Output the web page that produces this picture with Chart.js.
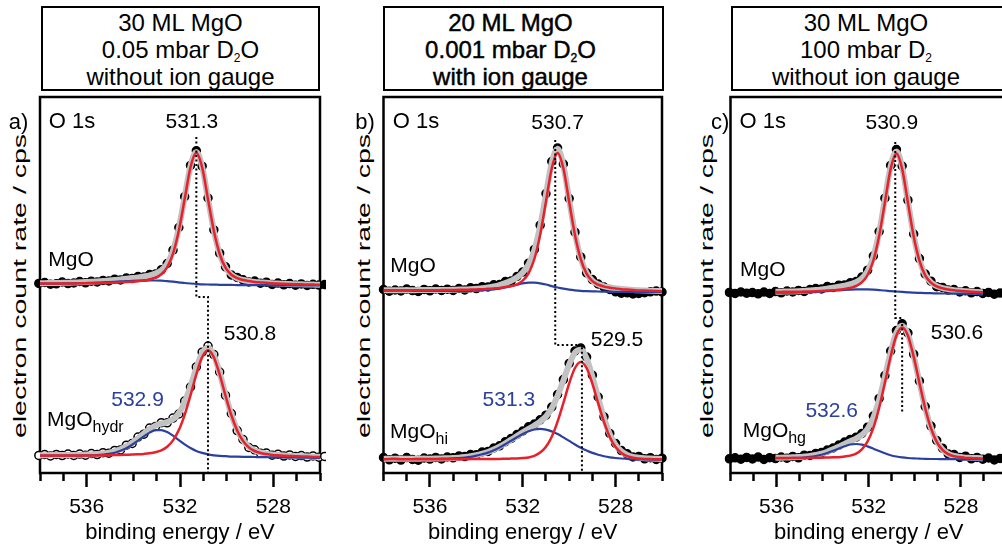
<!DOCTYPE html>
<html>
<head>
<meta charset="utf-8">
<script src="https://cdn.jsdelivr.net/npm/chart.js@4.4.0/dist/chart.umd.min.js"></script>
<style>
  html, body { margin: 0; padding: 0; width: 1002px; height: 548px; overflow: hidden; background: #fff; }
  body { position: relative; font-family: "Liberation Sans", Arial, Helvetica, sans-serif; color: #000; }
  .head { position: absolute; top: 6px; height: 85px; box-sizing: border-box; border: 2.5px solid #000;
          text-align: center; font-size: 24px; line-height: 27px; padding-top: 1px; white-space: nowrap; }
  .head sub { font-size: 12px; vertical-align: -4px; line-height: 0; }
  .ylab { position: absolute; top: 286px; font-size: 19px; white-space: nowrap;
          transform: translate(-50%, -50%) rotate(-90deg) scaleX(1.5); }
  canvas { position: absolute; top: 90px; }
</style>
</head>
<body>
<div class="head" style="left:41px; width:279px;">30 ML MgO<br>0.05 mbar D<sub>2</sub>O<br>without ion gauge</div>
<div class="head" style="left:383px; width:281px; padding-right:26px; -webkit-text-stroke:0.45px #000;">20 ML MgO<br>0.001 mbar D<sub>2</sub>O<br>with ion gauge</div>
<div class="head" style="left:731px; width:280px; padding-right:10px;">30 ML MgO<br>100 mbar D<sub>2</sub><br>without ion gauge</div>

<div class="ylab" style="left:20px;">electron count rate / cps</div>
<div class="ylab" style="left:364px;">electron count rate / cps</div>
<div class="ylab" style="left:707px;">electron count rate / cps</div>

<canvas id="pa" width="330" height="458" style="left:0px"></canvas>
<canvas id="pb" width="340" height="458" style="left:330px"></canvas>
<canvas id="pc" width="345" height="458" style="left:670px"></canvas>

<script>
// binding energy grids (eV)
const energyA = [538.05, 537.80, 537.55, 537.30, 537.05, 536.80, 536.55, 536.30, 536.05, 535.80,
  535.55, 535.30, 535.05, 534.80, 534.55, 534.30, 534.05, 533.80, 533.55, 533.30,
  533.05, 532.80, 532.55, 532.30, 532.05, 531.80, 531.55, 531.30, 531.05, 530.80,
  530.55, 530.30, 530.05, 529.80, 529.55, 529.30, 529.05, 528.80, 528.55, 528.30,
  528.05, 527.80, 527.55, 527.30, 527.05, 526.80, 526.55, 526.30, 526.05, 525.80];
const energyB = [538.00, 537.75, 537.50, 537.25, 537.00, 536.75, 536.50, 536.25, 536.00, 535.75,
  535.50, 535.25, 535.00, 534.75, 534.50, 534.25, 534.00, 533.75, 533.50, 533.25,
  533.00, 532.75, 532.50, 532.25, 532.00, 531.75, 531.50, 531.25, 531.00, 530.75,
  530.50, 530.25, 530.00, 529.75, 529.50, 529.25, 529.00, 528.75, 528.50, 528.25,
  528.00, 527.75, 527.50, 527.25, 527.00, 526.75, 526.50, 526.25, 526.00];
const energyC = energyA.slice();
const energyCFit = [536.05, 535.80, 535.55, 535.30, 535.05, 534.80, 534.55, 534.30, 534.05, 533.80,
  533.55, 533.30, 533.05, 532.80, 532.55, 532.30, 532.05, 531.80, 531.55, 531.30,
  531.05, 530.80, 530.55, 530.30, 530.05, 529.80, 529.55, 529.30, 529.05, 528.80,
  528.55, 528.30, 528.05, 527.80, 527.55, 527.30, 527.05];

// a) 30 ML MgO, 0.05 mbar D2O
const aTopData = [189.6, 190.5, 188.8, 189.2, 191.0, 189.4, 190.0, 191.5, 190.2, 191.8,
  191.0, 192.6, 192.0, 193.8, 193.0, 195.0, 194.6, 196.5, 196.0, 198.4,
  199.0, 203.2, 209.5, 222.8, 245.5, 276.3, 307.6, 322.2, 306.8, 275.0,
  243.2, 219.8, 206.2, 198.0, 195.6, 193.2, 191.0, 191.9, 189.8, 190.8,
  188.6, 189.9, 188.2, 189.4, 187.8, 189.1, 187.6, 188.7, 187.9, 188.4];
const aTopEnv = [189.8, 189.8, 190.0, 190.0, 190.2, 190.3, 190.4, 190.7, 191.0, 191.2,
  191.6, 192.0, 192.4, 192.9, 193.6, 194.2, 194.9, 195.6, 196.5, 197.6,
  199.4, 202.6, 209.1, 222.3, 244.8, 275.7, 307.0, 321.1, 306.2, 274.2,
  242.5, 219.2, 205.4, 198.4, 194.8, 193.0, 192.0, 191.1, 190.6, 190.2,
  189.7, 189.4, 189.2, 188.9, 188.8, 188.7, 188.5, 188.4, 188.3, 188.2];
const aTopRed = [189.5, 189.5, 189.6, 189.5, 189.6, 189.6, 189.6, 189.7, 189.8, 189.8,
  189.9, 190.0, 190.1, 190.3, 190.6, 190.9, 191.3, 191.8, 192.5, 193.5,
  195.3, 198.7, 205.6, 219.3, 242.4, 273.9, 305.7, 320.2, 305.6, 273.8,
  242.2, 219.0, 205.3, 198.3, 194.8, 193.0, 192.0, 191.1, 190.6, 190.2,
  189.7, 189.4, 189.2, 188.9, 188.8, 188.7, 188.5, 188.4, 188.3, 188.2];
const aTopBlue = [189.3, 189.3, 189.4, 189.4, 189.5, 189.6, 189.6, 189.8, 190.0, 190.1,
  190.4, 190.7, 190.9, 191.2, 191.6, 191.8, 192.1, 192.3, 192.4, 192.5,
  192.5, 192.3, 191.8, 191.3, 190.7, 190.0, 189.5, 189.1, 188.7, 188.5,
  188.4, 188.2, 188.1, 188.1, 187.9, 187.9, 187.9, 187.8, 187.8, 187.8,
  187.7, 187.7, 187.7, 187.6, 187.6, 187.6, 187.5, 187.5, 187.5, 187.5];
const aBotData = [17.6, 18.5, 17.0, 18.6, 17.4, 19.0, 17.6, 18.9, 17.8, 19.5,
  18.4, 20.3, 19.8, 22.6, 23.1, 27.8, 29.6, 35.9, 38.8, 45.0,
  46.6, 50.3, 50.2, 54.9, 59.0, 72.0, 86.0, 106.1, 120.8, 126.9,
  118.4, 101.0, 77.6, 59.5, 42.4, 33.5, 25.5, 23.2, 19.8, 20.0,
  17.8, 18.8, 16.9, 18.1, 16.5, 17.4, 15.9, 17.1, 15.8, 16.6];
const aBotEnv = [17.8, 17.8, 17.9, 17.9, 18.0, 18.0, 18.1, 18.2, 18.4, 18.6,
  18.9, 19.5, 20.4, 21.7, 23.8, 26.6, 30.3, 34.7, 39.5, 43.9,
  47.4, 49.4, 51.0, 53.8, 59.8, 70.9, 86.7, 104.9, 120.1, 125.6,
  117.7, 99.9, 78.5, 58.6, 43.2, 32.7, 26.2, 22.5, 20.5, 19.3,
  18.5, 18.0, 17.6, 17.3, 17.1, 16.7, 16.6, 16.3, 16.2, 16.1];
const aBotRed = [17.5, 17.5, 17.5, 17.5, 17.5, 17.4, 17.5, 17.5, 17.5, 17.6,
  17.6, 17.7, 17.8, 17.9, 18.0, 18.2, 18.4, 18.7, 19.1, 19.7,
  20.8, 22.6, 26.2, 32.6, 42.9, 58.2, 77.6, 98.7, 115.9, 122.8,
  115.8, 98.5, 77.4, 57.8, 42.5, 32.1, 25.6, 22.0, 20.0, 18.9,
  18.1, 17.7, 17.3, 17.0, 16.8, 16.5, 16.4, 16.1, 16.0, 15.9];
const aBotBlue = [17.4, 17.4, 17.4, 17.3, 17.4, 17.4, 17.4, 17.4, 17.5, 17.7,
  17.9, 18.4, 19.1, 20.3, 22.2, 24.8, 28.3, 32.3, 36.7, 40.4,
  42.8, 42.9, 40.9, 37.3, 32.9, 28.7, 25.0, 22.1, 20.1, 18.6,
  17.7, 17.1, 16.8, 16.4, 16.3, 16.2, 16.1, 16.0, 15.9, 15.8,
  15.7, 15.6, 15.6, 15.5, 15.5, 15.3, 15.3, 15.2, 15.2, 15.1];

// b) 20 ML MgO, 0.001 mbar D2O
const bTopData = [183.5, 181.8, 183.0, 182.1, 183.9, 182.4, 181.6, 183.6, 182.2, 184.0,
  182.5, 183.8, 182.6, 184.5, 183.0, 185.2, 184.4, 186.3, 186.0, 188.2,
  188.4, 191.4, 192.0, 196.5, 200.9, 209.8, 223.6, 247.8, 279.4, 311.5,
  325.0, 309.0, 274.5, 240.8, 216.0, 200.2, 193.4, 189.0, 186.0, 183.5,
  181.2, 179.8, 180.2, 179.0, 179.6, 180.3, 181.2, 181.9, 181.0];
const bTopEnv = [182.8, 182.8, 182.8, 182.8, 182.9, 182.8, 182.9, 182.9, 182.9, 183.0,
  183.1, 183.1, 183.2, 183.4, 183.5, 183.8, 184.2, 184.7, 185.5, 186.5,
  187.9, 189.9, 192.3, 195.5, 200.4, 208.6, 222.9, 246.6, 278.5, 310.3,
  324.2, 307.7, 273.3, 239.5, 214.7, 200.0, 192.4, 188.7, 186.7, 185.5,
  184.7, 184.0, 183.6, 183.1, 182.7, 182.5, 182.3, 182.1, 181.9];
const bTopRed = [182.7, 182.7, 182.7, 182.7, 182.8, 182.7, 182.7, 182.8, 182.8, 182.8,
  182.9, 182.9, 183.0, 183.2, 183.2, 183.4, 183.6, 183.8, 184.2, 184.6,
  185.1, 185.9, 187.0, 188.7, 192.3, 199.7, 214.0, 238.3, 271.4, 304.7,
  320.0, 304.7, 271.2, 238.1, 213.8, 199.3, 191.9, 188.3, 186.4, 185.3,
  184.5, 183.8, 183.4, 183.0, 182.6, 182.4, 182.2, 182.0, 181.8];
const bTopBlue = [182.4, 182.4, 182.3, 182.3, 182.3, 182.2, 182.2, 182.2, 182.1, 182.2,
  182.2, 182.1, 182.1, 182.2, 182.1, 182.2, 182.4, 182.6, 183.0, 183.6,
  184.4, 185.6, 186.9, 188.3, 189.6, 190.4, 190.3, 189.7, 188.5, 186.9,
  185.5, 184.3, 183.3, 182.6, 182.1, 181.8, 181.6, 181.5, 181.3, 181.2,
  181.2, 181.1, 181.1, 181.0, 180.9, 180.9, 180.9, 180.8, 180.8];
const bBotData = [15.5, 13.2, 14.8, 12.9, 15.4, 13.6, 12.8, 15.0, 13.9, 15.6,
  14.1, 16.0, 15.2, 16.9, 16.4, 18.5, 18.3, 21.0, 21.6, 25.0,
  27.2, 31.3, 34.6, 38.5, 42.0, 46.2, 49.0, 53.2, 57.8, 66.0,
  78.5, 93.4, 109.6, 122.0, 125.0, 116.0, 97.8, 76.0, 56.2, 39.6,
  29.5, 22.4, 19.2, 16.0, 16.6, 14.2, 15.3, 13.5, 14.8];
const bBotEnv = [14.1, 14.2, 14.2, 14.2, 14.2, 14.2, 14.3, 14.4, 14.3, 14.4,
  14.6, 14.8, 15.0, 15.3, 15.9, 16.7, 17.8, 19.3, 21.0, 23.5,
  26.4, 29.7, 33.4, 36.9, 40.7, 44.1, 47.5, 51.4, 56.5, 64.8,
  77.1, 92.5, 108.5, 120.5, 123.3, 114.5, 96.5, 75.2, 55.0, 38.9,
  28.1, 21.7, 18.1, 16.1, 15.3, 14.8, 14.5, 14.3, 14.1];
const bBotRed = [13.8, 13.9, 13.9, 13.8, 13.8, 13.8, 13.8, 13.8, 13.8, 13.8,
  13.8, 13.8, 13.9, 13.8, 13.8, 13.9, 13.9, 14.0, 13.9, 14.0,
  14.1, 14.3, 14.4, 14.5, 14.9, 15.6, 17.2, 20.4, 26.2, 36.3,
  51.3, 70.0, 89.5, 105.0, 111.0, 105.0, 89.4, 69.9, 51.1, 36.1,
  26.0, 20.1, 16.9, 15.2, 14.5, 14.1, 13.9, 13.8, 13.6];
const bBotBlue = [14.0, 14.0, 14.1, 14.0, 14.0, 14.0, 14.1, 14.1, 14.1, 14.2,
  14.3, 14.4, 14.7, 15.0, 15.5, 16.2, 17.3, 18.7, 20.4, 22.8,
  25.6, 28.8, 32.3, 35.7, 39.0, 41.7, 43.5, 44.2, 43.4, 41.6,
  38.9, 35.6, 32.1, 28.5, 25.3, 22.5, 20.1, 18.3, 16.8, 15.7,
  15.0, 14.5, 14.1, 13.7, 13.6, 13.5, 13.4, 13.3, 13.3];

// c) 30 ML MgO, 100 mbar D2
const cTopData = [180.6, 179.5, 181.0, 179.8, 180.4, 179.2, 180.9, 179.6, 181.4, 180.2,
  182.0, 181.0, 182.6, 181.5, 183.5, 184.4, 184.0, 186.5, 185.6, 187.8,
  188.0, 190.2, 191.5, 196.0, 202.8, 217.0, 241.5, 274.8, 307.6, 323.5,
  307.0, 272.8, 239.0, 214.4, 199.0, 191.8, 186.3, 185.6, 182.9, 183.5,
  181.0, 182.2, 180.2, 181.4, 179.6, 180.6, 178.8, 179.9, 178.5, 179.2];
const cTopEnv = [181.2, 181.3, 181.5, 181.6, 181.8, 182.1, 182.4, 182.9, 183.6, 184.4,
  185.2, 186.2, 187.4, 188.8, 190.9, 194.6, 201.9, 216.2, 240.3, 273.4,
  306.5, 321.5, 305.7, 271.6, 237.7, 213.0, 198.2, 190.7, 186.9, 184.9,
  183.8, 182.8, 182.3, 181.8, 181.4, 181.0, 180.8];
const cTopRed = [181.0, 181.1, 181.2, 181.2, 181.3, 181.4, 181.5, 181.7, 182.0, 182.4,
  182.8, 183.3, 184.1, 185.1, 187.0, 190.6, 198.0, 212.5, 237.0, 270.5,
  304.1, 319.5, 304.1, 270.4, 236.8, 212.3, 197.7, 190.3, 186.6, 184.7,
  183.6, 182.7, 182.2, 181.7, 181.3, 180.9, 180.7];
const cTopBlue = [180.3, 180.3, 180.4, 180.4, 180.5, 180.7, 180.8, 181.1, 181.5, 181.9,
  182.2, 182.7, 183.1, 183.4, 183.6, 183.7, 183.6, 183.3, 182.9, 182.5,
  181.9, 181.5, 181.1, 180.7, 180.3, 180.1, 179.9, 179.8, 179.6, 179.5,
  179.5, 179.3, 179.3, 179.3, 179.3, 179.2, 179.2];
const cBotData = [14.2, 15.2, 13.8, 15.6, 14.0, 15.9, 13.6, 15.3, 14.4, 16.0,
  14.8, 16.6, 15.2, 17.8, 17.5, 19.6, 20.4, 23.0, 25.0, 27.9,
  31.0, 33.6, 35.8, 39.5, 45.8, 57.0, 74.6, 97.5, 122.0, 142.4,
  149.2, 140.0, 118.8, 92.0, 66.4, 46.9, 32.5, 24.8, 19.0, 18.4,
  15.6, 16.8, 14.2, 15.6, 13.8, 15.0, 13.1, 14.6, 13.4, 14.0];
const cBotEnv = [15.4, 15.3, 15.5, 15.7, 15.9, 16.4, 17.0, 18.0, 19.3, 21.3,
  23.7, 26.2, 29.1, 31.8, 34.4, 38.1, 44.2, 55.5, 73.1, 96.1,
  120.5, 140.2, 147.3, 138.7, 117.3, 90.8, 65.3, 45.2, 31.6, 23.5,
  19.2, 17.1, 16.1, 15.3, 15.1, 14.9, 14.6];
const cBotRed = [15.0, 14.9, 15.0, 15.1, 15.0, 15.1, 15.2, 15.3, 15.3, 15.5,
  15.7, 15.8, 16.5, 17.4, 19.4, 23.7, 31.6, 45.1, 65.1, 90.3,
  116.5, 137.5, 145.5, 137.4, 116.4, 90.1, 64.8, 44.8, 31.2, 23.2,
  18.9, 16.8, 15.9, 15.1, 14.9, 14.7, 14.4];
const cBotBlue = [14.9, 14.8, 14.9, 15.1, 15.2, 15.6, 16.1, 17.0, 18.2, 20.0,
  22.2, 24.5, 26.7, 28.5, 29.0, 28.4, 26.6, 24.3, 21.9, 19.7,
  17.8, 16.5, 15.6, 15.0, 14.6, 14.4, 14.1, 14.0, 14.0, 13.8,
  13.8, 13.8, 13.7, 13.6, 13.6, 13.6, 13.5];

// dotted peak-position guides (energy, count rate)
const guideAE = [531.3, 531.3, 530.8, 530.8];
const guideAV = [336, 176, 176, 0];
const guideBE = [530.6, 530.6, 529.45, 529.45];
const guideBV = [333, 128, 128, 0];
const guideCE = [530.85, 530.85, 530.55, 530.55];
const guideCV = [331, 155, 155, 61];

const xTicks = [536, 532, 528];

const FONT = '"Liberation Sans", Arial, Helvetica, sans-serif';
const RED = '#e8202a', BLUE = '#2b409e', GRAY = '#c2c2c2';
Chart.defaults.font.family = FONT;
Chart.defaults.color = '#000';

function pts(es, vs) { return vs.map((v, i) => ({ x: es[i], y: v })); }

function points(es, vs, hollow) {
  return { data: pts(es, vs), showLine: false, order: 4, clip: 6,
    pointRadius: 4, pointBorderWidth: 1.5, pointBorderColor: '#000',
    pointBackgroundColor: hollow ? '#fff' : '#000' };
}
function curve(es, vs, color, width, order) {
  return { data: pts(es, vs), showLine: true, order: order, pointRadius: 0,
    borderColor: color, borderWidth: width, cubicInterpolationMode: 'monotone', fill: false };
}
function guide(es, vs) {
  return { data: pts(es, vs), showLine: true, order: 0, pointRadius: 0,
    borderColor: '#000', borderWidth: 2, borderDash: [2, 2.5], tension: 0 };
}

const framePlugin = {
  id: 'frame',
  beforeDatasetsDraw(chart) {
    const { ctx, chartArea: a } = chart;
    ctx.save();
    ctx.strokeStyle = '#000';
    ctx.lineWidth = 2.5;
    ctx.strokeRect(a.left, a.top, a.right - a.left, a.bottom - a.top);
    ctx.restore();
  }
};

const notesPlugin = {
  id: 'notes',
  afterDatasetsDraw(chart, args, opts) {
    const { ctx, scales: { x, y } } = chart;
    ctx.save();
    ctx.textBaseline = 'middle';
    for (const n of opts.items || []) {
      const px = x.getPixelForValue(n.e), py = y.getPixelForValue(n.v);
      ctx.font = (n.size || 21) + 'px ' + FONT;
      ctx.fillStyle = n.color || '#000';
      ctx.textAlign = n.align || 'center';
      ctx.fillText(n.t, px, py);
      if (n.sub) {
        const w = ctx.measureText(n.t).width;
        ctx.font = '16px ' + FONT;
        ctx.textAlign = 'left';
        ctx.fillText(n.sub, px + w, py + 8);
      }
    }
    ctx.restore();
  }
};

function panel(id, padL, padR, datasets, notes) {
  return new Chart(document.getElementById(id), {
    type: 'scatter',
    data: { datasets: datasets },
    options: {
      responsive: false,
      animation: false,
      events: [],
      layout: { padding: { left: padL, right: padR, top: 7, bottom: 0 } },
      plugins: { legend: { display: false }, tooltip: { enabled: false }, notes: { items: notes } },
      scales: {
        x: {
          type: 'linear', reverse: true, min: 526, max: 538,
          afterFit: (s) => { s.height = 75; },
          border: { display: false },
          grid: {
            drawOnChartArea: false, tickLength: 14, tickWidth: 2.5, tickColor: '#000',
            tickBorderDash: (c) => (c.tick && xTicks.includes(c.tick.value)) ? [] : [8, 40]
          },
          ticks: {
            stepSize: 1, autoSkip: false, maxRotation: 0, padding: 8, color: '#000',
            font: { size: 21 },
            callback: (v) => xTicks.includes(v) ? String(v) : ''
          },
          title: { display: true, text: 'binding energy / eV', color: '#000',
                   font: { size: 22 }, padding: { top: 0, bottom: 2 } }
        },
        y: { display: false, min: 0, max: 376 }
      }
    },
    plugins: [framePlugin, notesPlugin]
  });
}

panel('pa', 40, 10, [
  points(energyA, aTopData, false), points(energyA, aBotData, true),
  curve(energyA, aTopEnv, GRAY, 6, 3), curve(energyA, aBotEnv, GRAY, 6, 3),
  curve(energyA, aTopBlue, BLUE, 2.2, 2), curve(energyA, aBotBlue, BLUE, 2.2, 2),
  curve(energyA, aTopRed, RED, 2.5, 1), curve(energyA, aBotRed, RED, 2.5, 1),
  guide(guideAE, guideAV)
], [
  { t: 'a)', e: 538.92, v: 350, size: 22 },
  { t: 'O 1s', e: 536.63, v: 351, size: 22 },
  { t: '531.3', e: 531.49, v: 351 },
  { t: 'MgO', e: 536.67, v: 213 },
  { t: '530.8', e: 529.0, v: 139 },
  { t: '532.9', e: 533.82, v: 73, color: BLUE },
  { t: 'MgO', sub: 'hydr', e: 537.7, v: 53, align: 'left' }
]);

panel('pb', 53.5, 6.5, [
  points(energyB, bTopData, false), points(energyB, bBotData, false),
  curve(energyB, bTopEnv, GRAY, 6, 3), curve(energyB, bBotEnv, GRAY, 6, 3),
  curve(energyB, bTopBlue, BLUE, 2.2, 2), curve(energyB, bBotBlue, BLUE, 2.2, 2),
  curve(energyB, bTopRed, RED, 2.5, 1), curve(energyB, bBotRed, RED, 2.5, 1),
  guide(guideBE, guideBV)
], [
  { t: 'b)', e: 538.8, v: 350, size: 22 },
  { t: 'O 1s', e: 536.6, v: 351, size: 22 },
  { t: '530.7', e: 530.5, v: 350 },
  { t: 'MgO', e: 536.73, v: 207 },
  { t: '529.5', e: 527.94, v: 133 },
  { t: '531.3', e: 532.6, v: 73, color: BLUE },
  { t: 'MgO', sub: 'hi', e: 537.72, v: 41, align: 'left' }
]);

panel('pc', 60.5, 5.5, [
  points(energyC, cTopData, false), points(energyC, cBotData, false),
  curve(energyCFit, cTopEnv, GRAY, 6, 3), curve(energyCFit, cBotEnv, GRAY, 6, 3),
  curve(energyCFit, cTopBlue, BLUE, 2.2, 2), curve(energyCFit, cBotBlue, BLUE, 2.2, 2),
  curve(energyCFit, cTopRed, RED, 2.5, 1), curve(energyCFit, cBotRed, RED, 2.5, 1),
  guide(guideCE, guideCV)
], [
  { t: 'c)', e: 538.45, v: 350, size: 22 },
  { t: 'O 1s', e: 536.6, v: 351, size: 22 },
  { t: '530.9', e: 531.0, v: 350 },
  { t: 'MgO', e: 536.6, v: 203 },
  { t: '530.6', e: 528.17, v: 140 },
  { t: '532.6', e: 533.61, v: 62, color: BLUE },
  { t: 'MgO', sub: 'hg', e: 537.47, v: 42, align: 'left' }
]);
</script>
</body>
</html>
